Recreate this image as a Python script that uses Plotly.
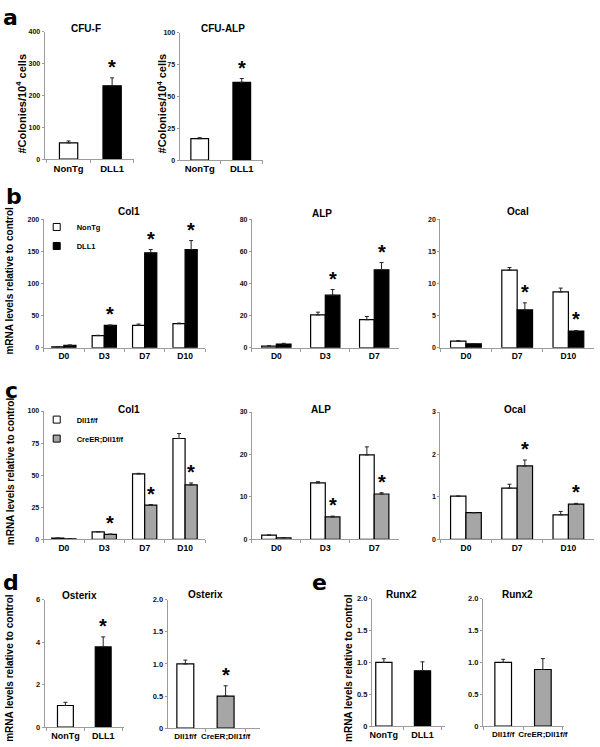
import plotly.graph_objects as go

W, H = 600, 747
FONT = "Liberation Sans, Arial, Helvetica, sans-serif"
LETTER_FONT = "DejaVu Sans, Liberation Sans, sans-serif"
WHITE, BLACK, GRAY = "#ffffff", "#000000", "#a6a6a6"
AXIS_GRAY = "#9c9c9c"
BARGAP = 0.4

# ---------------- data ----------------
# panel a : colony forming units
a_groups = ["NonTg", "DLL1"]
cfuf_values = [51, 230]
cfuf_errors = [6, 25]
cfuf_sig = [False, True]
cfualp_values = [16.8, 61]
cfualp_errors = [0.8, 3]
cfualp_sig = [False, True]

# panel b : NonTg vs DLL1 time course
b_series = ["NonTg", "DLL1"]
b_col1_days = ["D0", "D3", "D7", "D10"]
b_col1_nontg = [1.5, 19, 35, 37.5]
b_col1_nontg_err = [0.3, 0.5, 2, 1]
b_col1_dll1 = [4, 35, 148, 153]
b_col1_dll1_err = [0.4, 0.5, 5, 14]
b_col1_sig = [False, True, True, True]

b_alp_days = ["D0", "D3", "D7"]
b_alp_nontg = [1.0, 20.5, 17.5]
b_alp_nontg_err = [0.2, 1.7, 2.0]
b_alp_dll1 = [2.3, 32.8, 48.6]
b_alp_dll1_err = [0.5, 3.5, 4.5]
b_alp_sig = [False, True, True]

b_ocal_days = ["D0", "D7", "D10"]
b_ocal_nontg = [1.05, 12.1, 8.7]
b_ocal_nontg_err = [0.05, 0.4, 0.6]
b_ocal_dll1 = [0.62, 5.9, 2.6]
b_ocal_dll1_err = [0.05, 1.1, 0.1]
b_ocal_sig = [False, True, True]

# panel c : Dll1f/f vs CreER;Dll1f/f time course
c_series = ["Dll1f/f", "CreER;Dll1f/f"]
c_col1_days = ["D0", "D3", "D7", "D10"]
c_col1_ctrl = [1.0, 5.9, 51, 78.6]
c_col1_ctrl_err = [0.1, 0.3, 0.5, 3.9]
c_col1_cre = [0.5, 3.9, 26.8, 42.5]
c_col1_cre_err = [0.1, 0.3, 0.4, 1.5]
c_col1_sig = [False, True, True, True]

c_alp_days = ["D0", "D3", "D7"]
c_alp_ctrl = [1.0, 13.3, 19.9]
c_alp_ctrl_err = [0.05, 0.3, 1.9]
c_alp_cre = [0.4, 5.3, 10.7]
c_alp_cre_err = [0.05, 0.2, 0.3]
c_alp_sig = [False, True, True]

c_ocal_days = ["D0", "D7", "D10"]
c_ocal_ctrl = [1.02, 1.21, 0.58]
c_ocal_ctrl_err = [0.0, 0.09, 0.08]
c_ocal_cre = [0.63, 1.73, 0.83]
c_ocal_cre_err = [0.0, 0.14, 0.02]
c_ocal_sig = [False, True, True]

# panel d : Osterix
d_tg_groups = ["NonTg", "DLL1"]
d_osx_tg = [1.02, 3.78]
d_osx_tg_err = [0.15, 0.47]
d_osx_tg_sig = [False, True]
d_ko_groups = ["Dll1f/f", "CreER;Dll1f/f"]
d_osx_ko = [1.0, 0.5]
d_osx_ko_err = [0.06, 0.16]
d_osx_ko_sig = [False, True]

# panel e : Runx2
e_tg_groups = ["NonTg", "DLL1"]
e_runx_tg = [1.0, 0.87]
e_runx_tg_err = [0.06, 0.14]
e_runx_tg_sig = [False, False]
e_ko_groups = ["Dll1f/f", "CreER;Dll1f/f"]
e_runx_ko = [1.0, 0.89]
e_runx_ko_err = [0.05, 0.17]
e_runx_ko_sig = [False, False]

# y tick values / labels
a1_ticks = [0, 100, 200, 300, 400]
a2_ticks = [0, 25, 50, 75, 100]
b1_ticks = [0, 50, 100, 150, 200]
b2_ticks = [0, 20, 40, 60, 80]
b3_ticks = [0, 5, 10, 15, 20]
c1_ticks = [0, 25, 50, 75, 100]
c2_ticks = [0, 10, 20, 30]
c3_ticks = [0, 1, 2, 3]
d1_ticks = [0, 2, 4, 6]
frac_ticks = [0, 0.5, 1.0, 1.5, 2.0]
frac_tick_labels = ["0", "0.5", "1.0", "1.5", "2.0"]

# ---------------- figure ----------------
fig = go.Figure()
axes_layout = {}
annotations = []


def names(i):
    return ("x" if i == 1 else f"x{i}", "y" if i == 1 else f"y{i}",
            "xaxis" if i == 1 else f"xaxis{i}", "yaxis" if i == 1 else f"yaxis{i}")


def setup_axes(i, left, right, top, bottom, yticks, ylabels=None, yfont=7,
               xfont=8, xrange=None):
    xr, yr, xk, yk = names(i)
    xa = dict(domain=[left / W, right / W], anchor=yr, type="category",
              showline=True, linecolor=AXIS_GRAY, linewidth=1,
              ticks="outside", tickson="boundaries", ticklen=3, tickangle=0,
              tickcolor=AXIS_GRAY, showgrid=False, zeroline=False,
              tickfont=dict(family=FONT, size=xfont, color="black", weight="bold"),
              fixedrange=True)
    if xrange is not None:
        xa["range"] = xrange
    ya = dict(domain=[1 - bottom / H, 1 - top / H], anchor=xr,
              range=[0, max(yticks)], tickvals=yticks,
              ticktext=ylabels if ylabels else [str(t) for t in yticks],
              showline=True, linecolor=AXIS_GRAY, linewidth=1,
              ticks="outside", ticklen=2, tickcolor=AXIS_GRAY,
              showgrid=False, zeroline=False, fixedrange=True,
              tickfont=dict(family=FONT, size=yfont, color="#111", weight="bold"))
    axes_layout[xk] = xa
    axes_layout[yk] = ya


def star(xr, yr, x, y):
    annotations.append(dict(x=x, y=y, xref=xr, yref=yr, text="*", showarrow=False,
                            font=dict(family=FONT, size=20, color="black", weight="bold"),
                            yanchor="middle", yshift=11))


def err(arr):
    return dict(type="data", symmetric=False, array=arr, arrayminus=[0] * len(arr),
                color="#222", thickness=1, width=2)


def grouped(i, days, v1, e1, v2, e2, series, colors, sig):
    xr, yr, _, _ = names(i)
    for vals, errs, nm, col in ((v1, e1, series[0], colors[0]), (v2, e2, series[1], colors[1])):
        fig.add_trace(go.Bar(x=days, y=vals, name=nm, showlegend=False,
                             marker=dict(color=col, line=dict(color="black", width=1.2)),
                             error_y=err(errs), xaxis=xr, yaxis=yr))
    off = (1 - BARGAP) / 4
    for k, flag in enumerate(sig):
        if flag:
            star(xr, yr, k + off, v2[k] + e2[k])


def single(i, groups, vals, errs, colors, sig):
    xr, yr, _, _ = names(i)
    fig.add_trace(go.Bar(x=groups, y=vals, width=0.42, showlegend=False,
                         marker=dict(color=colors, line=dict(color="black", width=1.2)),
                         error_y=err(errs), xaxis=xr, yaxis=yr))
    for k, flag in enumerate(sig):
        if flag:
            star(xr, yr, k, vals[k] + errs[k])


# panel a
setup_axes(1, 43, 133, 28, 157, a1_ticks, yfont=7, xfont=9.5, xrange=[-0.55, 1.5])
single(1, a_groups, cfuf_values, cfuf_errors, [WHITE, BLACK], cfuf_sig)
setup_axes(2, 179, 263, 29, 158, a2_ticks, yfont=7, xfont=9.5, xrange=[-0.48, 1.5])
single(2, a_groups, cfualp_values, cfualp_errors, [WHITE, BLACK], cfualp_sig)

# panel b
setup_axes(3, 42, 205, 218, 348, b1_ticks, yfont=7, xfont=8.5)
grouped(3, b_col1_days, b_col1_nontg, b_col1_nontg_err, b_col1_dll1, b_col1_dll1_err,
        b_series, [WHITE, BLACK], b_col1_sig)
setup_axes(4, 252, 400, 218, 348, b2_ticks, yfont=7, xfont=8.5)
grouped(4, b_alp_days, b_alp_nontg, b_alp_nontg_err, b_alp_dll1, b_alp_dll1_err,
        b_series, [WHITE, BLACK], b_alp_sig)
setup_axes(5, 442, 597, 218, 348, b3_ticks, yfont=7, xfont=8.5)
grouped(5, b_ocal_days, b_ocal_nontg, b_ocal_nontg_err, b_ocal_dll1, b_ocal_dll1_err,
        b_series, [WHITE, BLACK], b_ocal_sig)

# panel c
setup_axes(6, 42, 205, 412, 542, c1_ticks, yfont=7, xfont=8.5)
grouped(6, c_col1_days, c_col1_ctrl, c_col1_ctrl_err, c_col1_cre, c_col1_cre_err,
        c_series, [WHITE, GRAY], c_col1_sig)
setup_axes(7, 252, 400, 413, 542, c2_ticks, yfont=7, xfont=8.5)
grouped(7, c_alp_days, c_alp_ctrl, c_alp_ctrl_err, c_alp_cre, c_alp_cre_err,
        c_series, [WHITE, GRAY], c_alp_sig)
setup_axes(8, 442, 597, 413, 542, c3_ticks, yfont=7, xfont=8.5)
grouped(8, c_ocal_days, c_ocal_ctrl, c_ocal_ctrl_err, c_ocal_cre, c_ocal_cre_err,
        c_series, [WHITE, GRAY], c_ocal_sig)

# panel d
setup_axes(9, 43, 123, 603, 732, d1_ticks, yfont=7.5, xfont=9, xrange=[-0.55, 1.55])
single(9, d_tg_groups, d_osx_tg, d_osx_tg_err, [WHITE, BLACK], d_osx_tg_sig)
setup_axes(10, 167, 260, 603, 733, frac_ticks, frac_tick_labels, yfont=7.5, xfont=8,
           xrange=[-0.44, 1.85])
single(10, d_ko_groups, d_osx_ko, d_osx_ko_err, [WHITE, GRAY], d_osx_ko_sig)

# panel e
setup_axes(11, 373, 447, 602, 731, frac_ticks, frac_tick_labels, yfont=7.5, xfont=9,
           xrange=[-0.31, 1.59])
single(11, e_tg_groups, e_runx_tg, e_runx_tg_err, [WHITE, BLACK], e_runx_tg_sig)
setup_axes(12, 485, 567, 602, 731, frac_ticks, frac_tick_labels, yfont=7.5, xfont=8,
           xrange=[-0.51, 1.54])
single(12, e_ko_groups, e_runx_ko, e_runx_ko_err, [WHITE, GRAY], e_runx_ko_sig)

# legends (b and c)
for nm, col in zip(b_series, (WHITE, BLACK)):
    fig.add_trace(go.Scatter(x=[None], y=[None], mode="markers", name=nm, legend="legend",
                             marker=dict(symbol="square", size=7, color=col,
                                         line=dict(color="black", width=1)),
                             xaxis="x3", yaxis="y3"))
for nm, col in zip(c_series, (WHITE, GRAY)):
    fig.add_trace(go.Scatter(x=[None], y=[None], mode="markers", name=nm, legend="legend2",
                             marker=dict(symbol="square", size=7, color=col,
                                         line=dict(color="black", width=1)),
                             xaxis="x6", yaxis="y6"))


def txt(x, y, s, size, angle=0, xanchor="center", family=FONT, pad=1):
    annotations.append(dict(x=x / W, y=1 - y / H, xref="paper", yref="paper", text=s,
                            showarrow=False, textangle=angle, xanchor=xanchor,
                            yanchor="middle", borderpad=pad,
                            font=dict(family=family, size=size, color="black", weight="bold")))


# subplot titles
for x, y, s in [(85, 25, "CFU-F"), (223, 25, "CFU-ALP"),
                (128, 210, "Col1"), (323, 212, "ALP"), (520, 210, "Ocal"),
                (128, 410, "Col1"), (322, 410, "ALP"), (517, 410, "Ocal"),
                (78, 599, "Osterix"), (205, 598, "Osterix"),
                (403, 598, "Runx2"), (520, 598, "Runx2")]:
    txt(x, y, s, 10)

# y-axis titles
txt(19, 101, "#Colonies/10<sup>4</sup> cells", 11, -90)
txt(161, 101, "#Colonies/10<sup>4</sup> cells", 11, -90)
txt(8, 280, "mRNA levels relative to control", 10, -90)
txt(8, 473, "mRNA levels relative to control", 10, -90)
txt(8, 672, "mRNA levels relative to control", 10, -90)
txt(350, 672, "mRNA levels relative to control", 10, -90)

# panel letters
for x, y, s in [(0, 14, "a"), (3, 195, "b"), (2, 391, "c"), (0, 586, "d"), (312, 586, "e")]:
    txt(x, y, s, 22, xanchor="left", family=LETTER_FONT, pad=0)

legend_common = dict(xanchor="left", yanchor="top", bgcolor="rgba(0,0,0,0)",
                     font=dict(family=FONT, size=7.5, color="black", weight="bold"),
                     tracegroupgap=0, itemclick=False, itemdoubleclick=False)

fig.update_layout(
    width=W, height=H, autosize=False,
    margin=dict(l=0, r=0, t=0, b=0),
    paper_bgcolor="white", plot_bgcolor="white",
    barmode="group", bargap=BARGAP, bargroupgap=0,
    font=dict(family=FONT, color="black"),
    legend=dict(x=35 / W, y=1 - 211 / H, **legend_common),
    legend2=dict(x=35 / W, y=1 - 406 / H, **legend_common),
    annotations=annotations,
    **axes_layout,
)

# remove the default 8px page margin so the 600x747 figure fills the window exactly
fig.write_html("out.html", config={"displayModeBar": False},
               post_script="document.body.style.margin='0';")
